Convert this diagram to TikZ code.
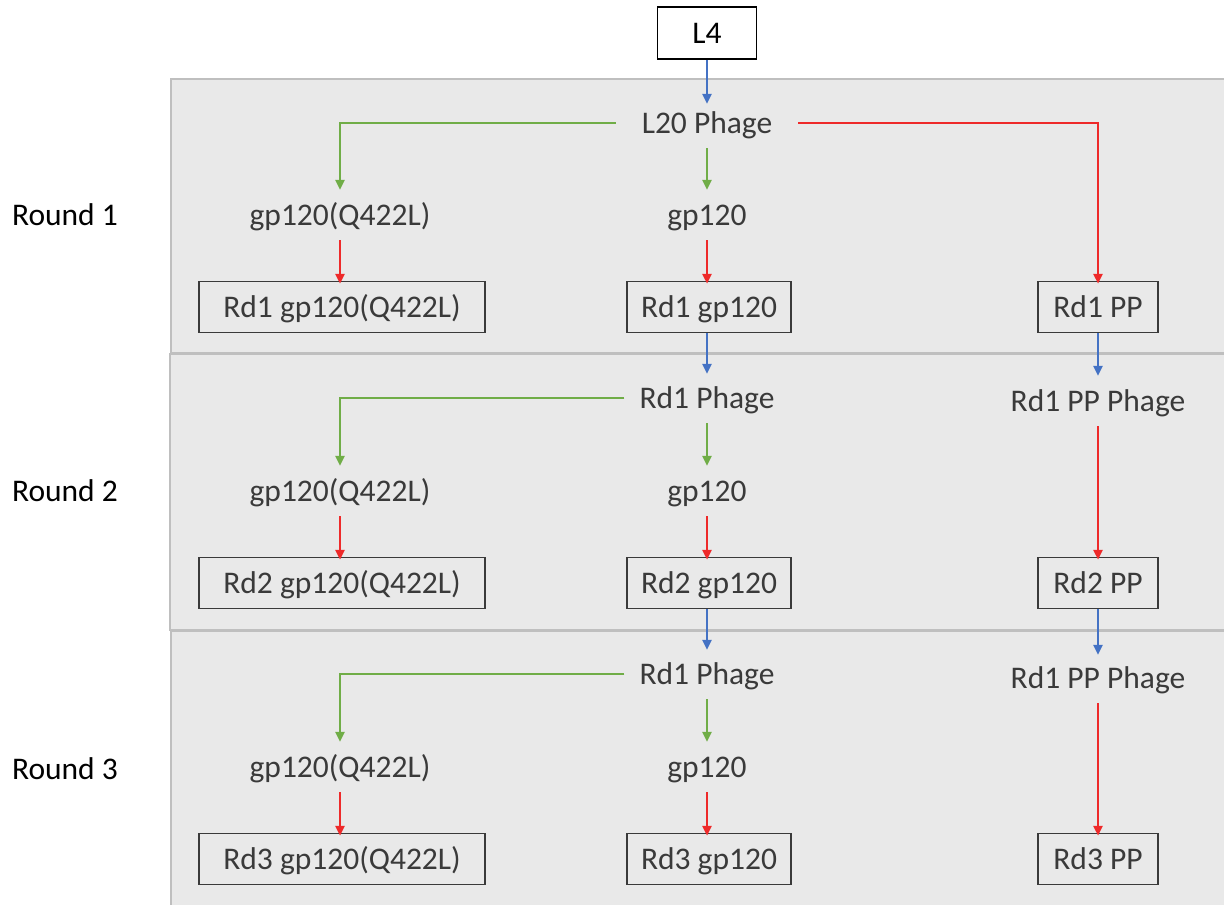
\documentclass[tikz,border=0pt]{standalone}
\usepackage{fontspec}
\setmainfont{Carlito}
\usetikzlibrary{arrows.meta}
\definecolor{panelfill}{HTML}{E9E9E9}
\definecolor{panelline}{HTML}{BFBFBF}
\definecolor{txt}{HTML}{3A3A3A}
\definecolor{bl}{HTML}{4472C4}
\definecolor{gr}{HTML}{70AD47}
\definecolor{rd}{HTML}{EE2A2A}
\tikzset{
  panel/.style={fill=panelfill, draw=panelline, line width=1.5pt},
  tx/.style={font=\fontsize{31.5}{36}\selectfont, text height=25pt, text depth=4pt},
  lbl/.style={tx, text=txt, inner xsep=0pt, inner ysep=0pt, minimum height=50pt},
  rlbl/.style={tx, text=black},
  rbox/.style={tx, text=txt, draw=txt, line width=1.5pt, fill=panelfill, minimum height=51pt, inner xsep=0pt},
  arr/.style={line width=2.6pt, -{Triangle[length=10pt,width=9pt]}},
  barr/.style={arr, bl},
  garr/.style={arr, gr},
  rarr/.style={arr, rd},
}
\begin{document}
\begin{tikzpicture}[x=1pt,y=-1pt]
\useasboundingbox (0,0) rectangle (1224,905);
\fill[white] (0,0) rectangle (1224,905);
% panels
\draw[panel] (171,79) rectangle (1240,353);
\draw[panel] (170,354) rectangle (1240,630);
\draw[panel] (171,631) rectangle (1240,920);
% round labels
\node[rlbl] (r1) at (65,215) {Round 1};
\node[rlbl] (r2) at (65,491) {Round 2};
\node[rlbl] (r3) at (65,769) {Round 3};
% top
\node[tx, draw=black, line width=1.5pt, fill=white, minimum width=99pt, minimum height=52pt] (l4) at (707,33) {L4};
\node[lbl, inner xsep=26pt] (l20) at (707,123) {L20 Phage};
% round 1
\node[lbl] (q1) at (340,215) {gp120(Q422L)};
\node[lbl] (g1) at (707,215) {gp120};
\node[rbox, minimum width=286pt] (bq1) at (342,307) {Rd1 gp120(Q422L)};
\node[rbox, minimum width=164pt] (bg1) at (709,307) {Rd1 gp120};
\node[rbox, minimum width=120pt] (bp1) at (1098,307) {Rd1 PP};
% round 2
\node[lbl, inner xsep=15pt] (ph2) at (707,398) {Rd1 Phage};
\node[lbl] (pp2) at (1098,401) {Rd1 PP Phage};
\node[lbl] (q2) at (340,491) {gp120(Q422L)};
\node[lbl] (g2) at (707,491) {gp120};
\node[rbox, minimum width=286pt] (bq2) at (342,583) {Rd2 gp120(Q422L)};
\node[rbox, minimum width=164pt] (bg2) at (709,583) {Rd2 gp120};
\node[rbox, minimum width=120pt] (bp2) at (1098,583) {Rd2 PP};
% round 3
\node[lbl, inner xsep=15pt] (ph3) at (707,674) {Rd1 Phage};
\node[lbl] (pp3) at (1098,678) {Rd1 PP Phage};
\node[lbl] (q3) at (340,767) {gp120(Q422L)};
\node[lbl] (g3) at (707,767) {gp120};
\node[rbox, minimum width=286pt] (bq3) at (342,859) {Rd3 gp120(Q422L)};
\node[rbox, minimum width=164pt] (bg3) at (709,859) {Rd3 gp120};
\node[rbox, minimum width=120pt] (bp3) at (1098,859) {Rd3 PP};
% connectors
\draw[barr] (l4.south) -- ([yshift=-6pt]l20.north);
\draw[garr] (l20.west) -| (q1.north);
\draw[garr] (l20.south) -- (g1.north);
\draw[rarr] (l20.east) -| ([yshift=-3pt]bp1.north);
\draw[rarr] (q1.south) -- ([yshift=-3pt]q1.south |- bq1.north);
\draw[rarr] (g1.south) -- ([yshift=-3pt]g1.south |- bg1.north);
\draw[barr] (bg1.south -| g1.south) -- ([yshift=-1pt]ph2.north);
\draw[barr] (bp1.south) -- (pp2.north);
\draw[garr] (ph2.west) -| (q2.north);
\draw[garr] (ph2.south) -- (g2.north);
\draw[rarr] (pp2.south) -- ([yshift=-3pt]bp2.north);
\draw[rarr] (q2.south) -- ([yshift=-3pt]q2.south |- bq2.north);
\draw[rarr] (g2.south) -- ([yshift=-3pt]g2.south |- bg2.north);
\draw[barr] (bg2.south -| g2.south) -- ([yshift=-1pt]ph3.north);
\draw[barr] (bp2.south) -- ([yshift=-2pt]pp3.north);
\draw[garr] (ph3.west) -| (q3.north);
\draw[garr] (ph3.south) -- (g3.north);
\draw[rarr] (pp3.south) -- ([yshift=-3pt]bp3.north);
\draw[rarr] (q3.south) -- ([yshift=-3pt]q3.south |- bq3.north);
\draw[rarr] (g3.south) -- ([yshift=-3pt]g3.south |- bg3.north);
\end{tikzpicture}
\end{document}
